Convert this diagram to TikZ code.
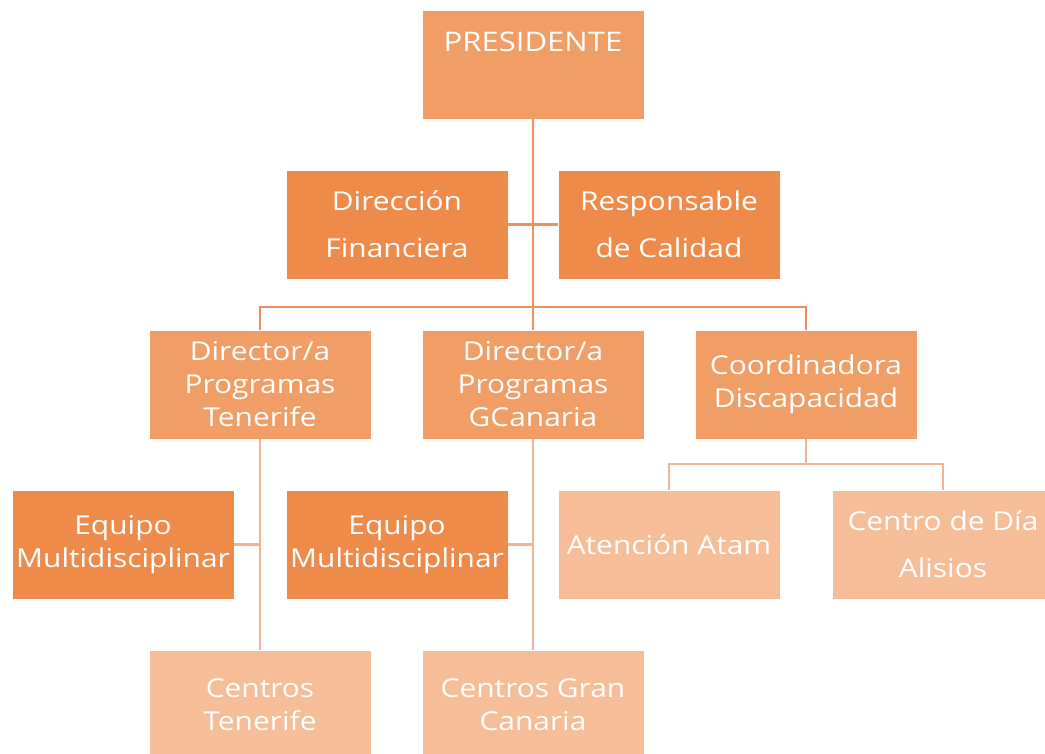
\documentclass[tikz,border=0pt]{standalone}
\usepackage{fontspec}
\setmainfont[FakeStretch=1.15]{Open Sans}
\usepackage{tikz}
\usetikzlibrary{positioning}
\newcommand{\boxwd}{222pt}
\newcommand{\boxht}{109pt}
\definecolor{orgdark}{HTML}{EE8B4A}
\definecolor{orgmid}{HTML}{F09D66}
\definecolor{orglight}{HTML}{F5BE98}
\definecolor{linetop}{HTML}{EE8F5C}
\definecolor{linelow}{HTML}{F3B397}

\begin{document}
\begin{tikzpicture}[x=1pt,y=-1pt,
    orgbox/.style={rectangle, draw=white, line width=.6pt, text=white,
      minimum width=\boxwd, minimum height=\boxht, inner sep=0pt,
      align=center, font=\fontsize{26}{33}\selectfont},
    toplink/.style={draw=linetop, line width=2.6pt},
    lowlink/.style={draw=linelow, line width=2.6pt}]

        \useasboundingbox (0,0) rectangle (1045,754);

          % head
        \node (pres) at (533,64.5) [orgbox, fill=orgmid, text height=42pt, text depth=67pt,
          font=\fontsize{27}{33}\selectfont] {PRESIDENTE};
        \node (dirF) at (397,224.5) [orgbox, fill=orgdark] {Dirección\\[14pt]Financiera};
        \node (resp) at (669,224.5) [orgbox, fill=orgdark] {Responsable\\[14pt]de Calidad};

          % directors
        \node (dirT) at (260,384.5) [orgbox, fill=orgmid] {Director/a\\Programas\\Tenerife};
        \node (dirG) at (533,384.5) [orgbox, fill=orgmid] {Director/a\\Programas\\GCanaria};
        \node (coord) at (806,384.5) [orgbox, fill=orgmid] {Coordinadora\\Discapacidad};

          % teams
        \node (eqT) at (123,544.5) [orgbox, fill=orgdark] {Equipo\\Multidisciplinar};
        \node (eqG) at (397,544.5) [orgbox, fill=orgdark] {Equipo\\Multidisciplinar};
        \node (aten) at (669,544.5) [orgbox, fill=orglight] {Atención Atam};
        \node (alis) at (943,544.5) [orgbox, fill=orglight] {Centro de Día\\[14pt]Alisios};

          % centres
        \node (cenT) at (260,704.5) [orgbox, fill=orglight] {Centros\\Tenerife};
        \node (cenG) at (533,704.5) [orgbox, fill=orglight] {Centros Gran\\Canaria};

        \coordinate (bar) at (533,307);
        \coordinate (cbar) at (806,464);

        \draw[toplink] (pres.south) to (bar);
        \draw[toplink] (dirF.east) to (resp.west);
        \draw[toplink] (bar) -| (dirT.north);
        \draw[toplink] (bar) -| (coord.north);
        \draw[toplink] (bar) to (dirG.north);

        \draw[lowlink] (dirT.south) to (cenT.north);
        \draw[lowlink] (dirG.south) to (cenG.north);
        \draw[lowlink] (eqT.east) to (eqT.east -| dirT.south);
        \draw[lowlink] (eqG.east) to (eqG.east -| dirG.south);
        \draw[lowlink] (coord.south) to (cbar);
        \draw[lowlink] (cbar) -| (aten.north);
        \draw[lowlink] (cbar) -| (alis.north);

        \end{tikzpicture}
\end{document}
